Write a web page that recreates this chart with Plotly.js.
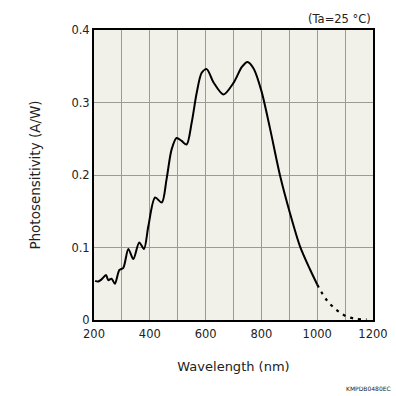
<!DOCTYPE html>
<html>
<head>
<meta charset="utf-8">
<script src="https://cdn.plot.ly/plotly-3.0.1.min.js"></script>
<style>html,body{margin:0;padding:0;background:#fff;}#chart{width:396px;height:396px;}</style>
</head>
<body>
<div id="chart"></div>
<script>
// Solid part of the spectral response (nm, A/W)
const wavelength = [204, 215, 227, 243, 251, 263, 275, 291, 305, 323, 341, 362, 379, 395, 419, 443, 460, 478, 496, 514, 532, 550, 568, 586, 604, 628, 664, 700, 730, 750, 772, 800, 831, 867, 902, 938, 974, 1000];
const sensitivity = [0.054, 0.053, 0.056, 0.062, 0.055, 0.057, 0.050, 0.069, 0.072, 0.098, 0.084, 0.107, 0.098, 0.130, 0.169, 0.162, 0.194, 0.235, 0.251, 0.247, 0.242, 0.272, 0.313, 0.341, 0.346, 0.328, 0.311, 0.327, 0.349, 0.356, 0.347, 0.316, 0.264, 0.199, 0.148, 0.102, 0.070, 0.049];
// Dashed tail
const tailWavelength = [1000, 1033, 1069, 1105, 1141, 1177];
const tailSensitivity = [0.049, 0.028, 0.014, 0.005, 0.0015, 0.001];
// Axis ticks
const xTickVals = [200, 300, 400, 500, 600, 700, 800, 900, 1000, 1100, 1200];
const xTickText = ['200', '', '400', '', '600', '', '800', '', '1000', '', '1200'];
const yTickVals = [0, 0.1, 0.2, 0.3, 0.4];
const yTickText = ['0', '0.1', '0.2', '0.3', '0.4'];

const font = 'Verdana, "DejaVu Sans", sans-serif';
const traces = [
  {x: wavelength, y: sensitivity, mode: 'lines', line: {color: '#000', width: 2, shape: 'spline', smoothing: 0.8}, hoverinfo: 'skip'},
  {x: tailWavelength, y: tailSensitivity, mode: 'lines', line: {color: '#000', width: 2.2, dash: '3px,5px', shape: 'spline'}, hoverinfo: 'skip'}
];
const layout = {
  width: 396, height: 396,
  margin: {l: 94, r: 23, t: 30, b: 76},
  paper_bgcolor: '#fff',
  plot_bgcolor: '#f2f1e9',
  showlegend: false,
  font: {family: font, size: 11, color: '#222'},
  xaxis: {
    range: [200, 1200], tickvals: xTickVals, ticktext: xTickText,
    showgrid: true, gridcolor: '#9a9a96', gridwidth: 1,
    zeroline: false, showline: true, linecolor: '#000', linewidth: 2, mirror: true,
    ticks: 'outside', ticklen: 2, tickcolor: 'rgba(0,0,0,0)', tickfont: {size: 11.5, family: font, color: '#222'},
    title: {text: 'Wavelength (nm)', font: {size: 13, family: font, color: '#222'}, standoff: 22}
  },
  yaxis: {
    range: [0, 0.4], tickvals: yTickVals, ticktext: yTickText,
    showgrid: true, gridcolor: '#9a9a96', gridwidth: 1,
    zeroline: false, showline: true, linecolor: '#000', linewidth: 2, mirror: true,
    ticks: '', tickfont: {size: 11.5, family: font, color: '#222'},
    title: {text: 'Photosensitivity (A/W)', font: {size: 13.5, family: font, color: '#222'}, standoff: 28}
  },
  annotations: [
    {text: '(Ta=25 °C)', xref: 'paper', yref: 'paper', x: 1.0, y: 1.0, xanchor: 'right', yanchor: 'bottom', yshift: 2, showarrow: false, font: {size: 11.5, family: font, color: '#222'}},
    {text: 'KMPDB0480EC', xref: 'paper', yref: 'paper', x: 1.07, y: 0, xanchor: 'right', yanchor: 'top', yshift: -63, showarrow: false, font: {size: 6, family: font, color: '#222'}}
  ]
};
Plotly.newPlot('chart', traces, layout, {staticPlot: true, displayModeBar: false});
</script>
</body>
</html>
